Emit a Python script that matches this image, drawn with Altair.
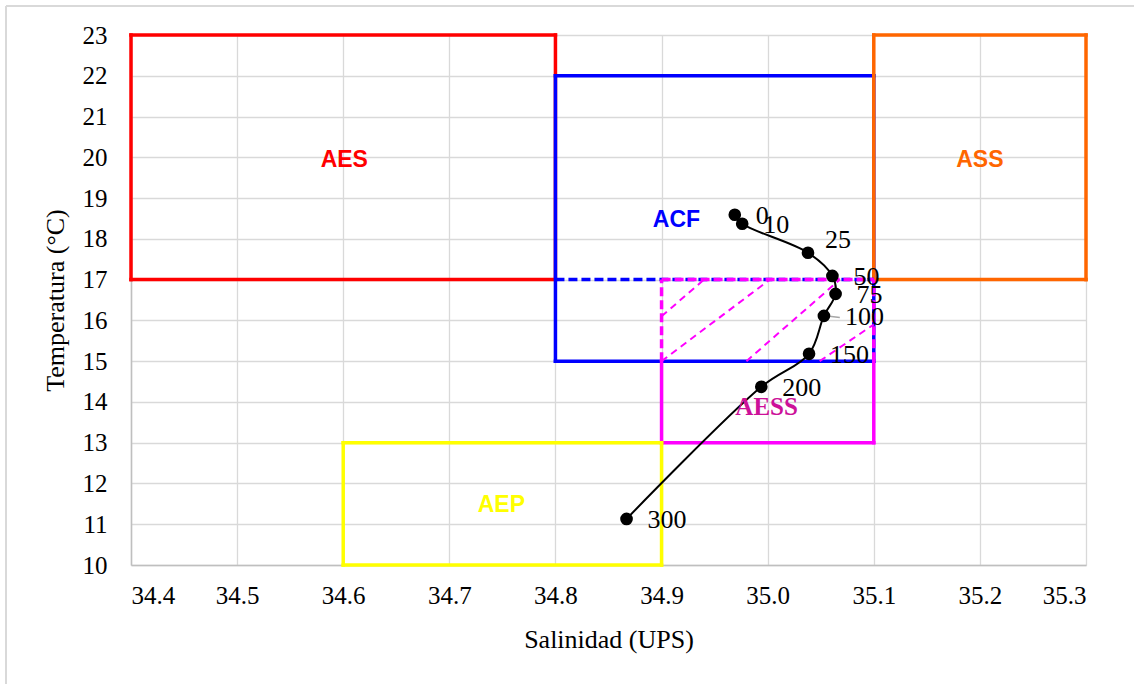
import altair as alt
import pandas as pd

# T-S profile of the station (depth in m)
depth = [0, 10, 25, 50, 75, 100, 150, 200, 300]
salinity = [34.969, 34.976, 35.038, 35.061, 35.064, 35.053, 35.039, 34.994, 34.867]
temperature = [18.59, 18.37, 17.66, 17.09, 16.65, 16.11, 15.18, 14.37, 11.13]

# Water-mass boxes
mass_names = ["AES", "ACF", "ASS", "AESS", "AEP"]
mass_sal_min = [34.4, 34.8, 35.1, 34.9, 34.6]
mass_sal_max = [34.8, 35.1, 35.3, 35.1, 34.9]
mass_temp_min = [17.0, 15.0, 17.0, 13.0, 10.0]
mass_temp_max = [23.0, 22.0, 23.0, 17.0, 13.0]
mass_colors = ["#FF0000", "#0000FF", "#FF6600", "#FF00FF", "#FFFF00"]
mass_label_sal = [34.601, 34.914, 35.200, 34.999, 34.749]
mass_label_temp = [19.94, 18.47, 19.94, 13.88, 11.47]
mass_label_colors = ["#FF0000", "#0000FF", "#FF6600", "#CC1199", "#FFFF00"]

acf_divider = 17.0   # dashed limit inside ACF
aess_split = 15.0    # AESS overlaps ACF above this temperature

# Hatching of the ACF/AESS overlap
hatch_sal_start = [34.900, 34.900, 34.980, 35.049]
hatch_temp_start = [16.10, 15.00, 15.00, 15.00]
hatch_sal_end = [34.940, 35.002, 35.068, 35.100]
hatch_temp_end = [17.00, 17.00, 17.00, 15.90]

# Leader for the 100 m label
leader_sal = [35.056, 35.068]
leader_temp = [16.11, 16.07]

x_ticks = [round(34.4 + 0.1 * i, 1) for i in range(10)]
y_ticks = list(range(10, 24))

SERIF = "'Liberation Serif', 'Times New Roman', Tinos, 'Nimbus Roman', 'DejaVu Serif', serif"
SANS = "'Liberation Sans', Arial, sans-serif"

x_scale = alt.Scale(domain=[34.4, 35.3], nice=False, zero=False)
y_scale = alt.Scale(domain=[10, 23], nice=False, zero=False)
x_axis = alt.Axis(values=x_ticks, format=".1f", title="Salinidad (UPS)")
y_axis = alt.Axis(values=y_ticks, format="d", title="Temperatura (°C)")


def X(field):
    return alt.X(f"{field}:Q", scale=x_scale, axis=x_axis)


def Y(field):
    return alt.Y(f"{field}:Q", scale=y_scale, axis=y_axis)


# Box outlines as individual segments
segs = []
for name, x0, x1, y0, y1, c in zip(mass_names, mass_sal_min, mass_sal_max,
                                   mass_temp_min, mass_temp_max, mass_colors):
    if name == "AESS":
        segs += [
            dict(x=x0, x2=x1, y=y1, y2=y1, color=c, style="dashed"),
            dict(x=x0, x2=x0, y=aess_split, y2=y1, color=c, style="dashed"),
            dict(x=x1, x2=x1, y=aess_split, y2=y1, color=c, style="dashed"),
            dict(x=x0, x2=x0, y=y0, y2=aess_split, color=c, style="solid"),
            dict(x=x1, x2=x1, y=y0, y2=aess_split, color=c, style="solid"),
            dict(x=x0, x2=x1, y=y0, y2=y0, color=c, style="solid"),
        ]
    else:
        segs += [
            dict(x=x0, x2=x1, y=y1, y2=y1, color=c, style="solid"),
            dict(x=x0, x2=x1, y=y0, y2=y0, color=c, style="solid"),
            dict(x=x0, x2=x0, y=y0, y2=y1, color=c, style="solid"),
            dict(x=x1, x2=x1, y=y0, y2=y1, color=c, style="solid"),
        ]
    if name == "ACF":
        segs.append(dict(x=x0, x2=x1, y=acf_divider, y2=acf_divider,
                         color=c, style="dashed"))
seg_df = pd.DataFrame(segs)

solid = alt.Chart(seg_df[seg_df["style"] == "solid"]).mark_rule(
    strokeWidth=3.5, strokeCap="square"
).encode(x=X("x"), x2="x2", y=Y("y"), y2="y2", color=alt.Color("color:N", scale=None))

dashed = alt.Chart(seg_df[seg_df["style"] == "dashed"]).mark_rule(
    strokeWidth=3.5, strokeDash=[9, 4]
).encode(x=X("x"), x2="x2", y=Y("y"), y2="y2", color=alt.Color("color:N", scale=None))

hatch_df = pd.DataFrame(dict(x=hatch_sal_start, y=hatch_temp_start,
                             x2=hatch_sal_end, y2=hatch_temp_end))
hatch = alt.Chart(hatch_df).mark_rule(
    strokeWidth=2, strokeDash=[7, 5], color="#FF00FF"
).encode(x=X("x"), x2="x2", y=Y("y"), y2="y2")

labels_df = pd.DataFrame(dict(name=mass_names, x=mass_label_sal,
                              y=mass_label_temp, color=mass_label_colors))
mass_text = alt.Chart(labels_df[labels_df["name"] != "AESS"]).mark_text(
    font=SANS, fontSize=23, fontWeight="bold", align="center", baseline="middle"
).encode(x=X("x"), y=Y("y"), text="name:N", color=alt.Color("color:N", scale=None))
aess_text = alt.Chart(labels_df[labels_df["name"] == "AESS"]).mark_text(
    font=SERIF, fontSize=25, fontWeight="bold", align="center", baseline="middle"
).encode(x=X("x"), y=Y("y"), text="name:N", color=alt.Color("color:N", scale=None))

prof = pd.DataFrame(dict(depth=depth, sal=salinity, temp=temperature))
prof["lab"] = prof["depth"].astype(str)

line = alt.Chart(prof).mark_line(
    color="black", strokeWidth=2, interpolate="catmull-rom"
).encode(x=X("sal"), y=Y("temp"), order="depth:Q")
pts = alt.Chart(prof).mark_circle(color="black", size=160, opacity=1).encode(
    x=X("sal"), y=Y("temp"))

leader = alt.Chart(pd.DataFrame(dict(x=[leader_sal[0]], x2=[leader_sal[1]],
                                     y=[leader_temp[0]], y2=[leader_temp[1]]))
                   ).mark_rule(color="#A6A6A6", strokeWidth=1.5).encode(
    x=X("x"), x2="x2", y=Y("y"), y2="y2")

depth_text = alt.Chart(prof[prof["depth"] != 25]).mark_text(
    font=SERIF, fontSize=26, align="left", baseline="middle", dx=21, dy=1, color="black"
).encode(x=X("sal"), y=Y("temp"), text="lab:N")
depth_text_25 = alt.Chart(prof[prof["depth"] == 25]).mark_text(
    font=SERIF, fontSize=26, align="left", baseline="middle", dx=17, dy=-13, color="black"
).encode(x=X("sal"), y=Y("temp"), text="lab:N")

# Chart-area frame
frame_top = alt.Chart(prof).mark_rule(color="#D9D9D9", strokeWidth=2).encode(
    x=alt.value(-125), x2=alt.value(1100), y=alt.value(-29))
frame_left = alt.Chart(prof).mark_rule(color="#D9D9D9", strokeWidth=2).encode(
    x=alt.value(-125), y=alt.value(-29), y2=alt.value(700))

chart = alt.layer(
    solid, dashed, hatch, line, leader, pts, depth_text, depth_text_25,
    mass_text, aess_text, frame_top, frame_left
).properties(
    width=955, height=530,
    autosize=alt.AutoSizeParams(type="none"),
    padding={"left": 131, "top": 35, "right": 48, "bottom": 119},
    background="white",
).configure_view(strokeWidth=0).configure_axis(
    grid=True, gridColor="#D9D9D9", gridWidth=1.3,
    domainColor="#BFBFBF", domainWidth=1.5,
    ticks=False, tickSize=0,
    labelFont=SERIF, labelFontSize=25, labelColor="black",
    titleFont=SERIF, titleFontSize=26, titleFontWeight="normal", titleColor="black",
).configure_axisX(labelPadding=18, titlePadding=18).configure_axisY(
    labelPadding=24, titlePadding=14)

chart.save("out.html", embed_options={"renderer": "svg", "actions": False})
